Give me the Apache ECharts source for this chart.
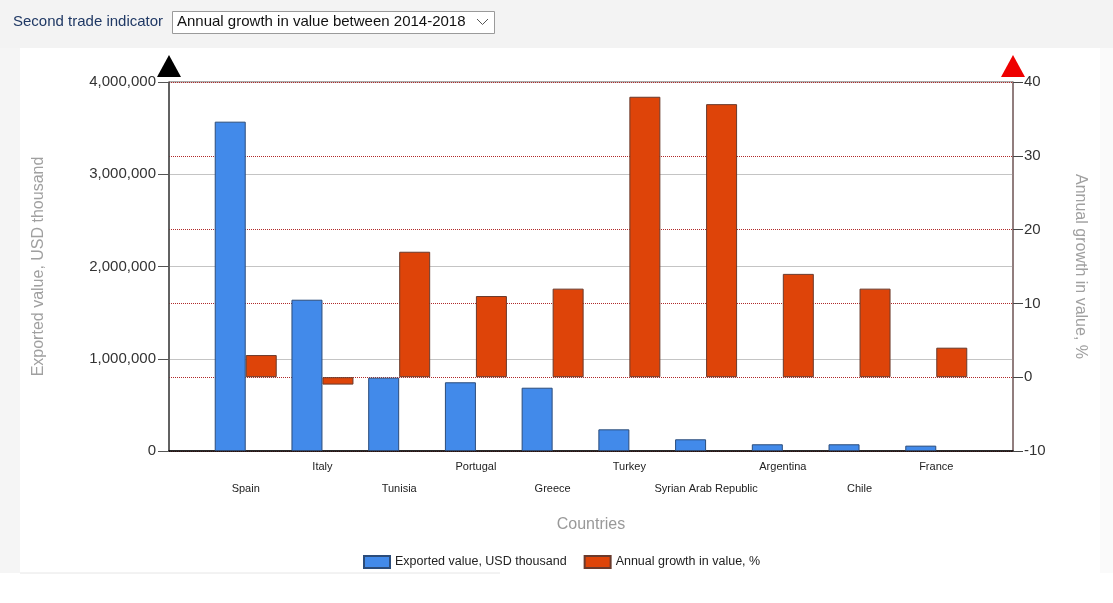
<!DOCTYPE html>
<html>
<head>
<meta charset="utf-8">
<title>Exported value and annual growth by country</title>
<script src="https://cdn.jsdelivr.net/npm/echarts@6/dist/echarts.min.js"></script>
<style>
  html, body { margin: 0; padding: 0; background: #ffffff; }
  #chart { width: 1113px; height: 603px; }
</style>
</head>
<body>
<div id="chart"></div>
<script>
// Countries in display order
const countries = ['Spain', 'Italy', 'Tunisia', 'Portugal', 'Greece', 'Turkey',
  'Syrian Arab Republic', 'Argentina', 'Chile', 'France'];

// Exported value, USD thousand (left axis)
const exportedValue = [3570000, 1640000, 795000, 745000, 686000, 235000, 127000, 73000, 73000, 58000];

// Annual growth in value between 2014-2018, % (right axis)
const annualGrowth = [3, -1, 17, 11, 12, 38, 37, 14, 12, 4];

// Axis ranges
const valueAxisRange = { min: 0, max: 4000000, interval: 1000000 };
const growthAxisRange = { min: -10, max: 40, interval: 10 };

// Category slots run from -1 to 10 so that a half-slot margin sits on each side
const slotRange = { min: -1, max: 10, interval: 1 };

const FONT = 'Arial, "Liberation Sans", sans-serif';
const BAR_WIDTH = 31;

const chart = echarts.init(document.getElementById('chart'), null, { renderer: 'canvas' });

const exportedPoints = exportedValue.map((v, i) => [i, v]);
const growthPoints = annualGrowth.map((v, i) => [i, v]);

const option = {
  backgroundColor: '#ffffff',
  animation: false,
  textStyle: { fontFamily: FONT },
  graphic: [
    { type: 'rect', z: -100, silent: true, shape: { x: 0, y: 0, width: 1113, height: 48 }, style: { fill: '#f3f3f3' } },
    { type: 'rect', z: -100, silent: true, shape: { x: 0, y: 48, width: 20, height: 525 }, style: { fill: '#f5f5f5' } },
    { type: 'rect', z: -100, silent: true, shape: { x: 1100, y: 48, width: 13, height: 525 }, style: { fill: '#fafafa' } },
    { type: 'line', z: -100, silent: true, shape: { x1: 20, y1: 573, x2: 500, y2: 573 }, style: { stroke: '#e6e6e6', lineWidth: 1 } },
    { type: 'text', left: 13, top: 14, style: { text: 'Second trade indicator', font: '15px ' + FONT, fill: '#1f3864' } },
    { type: 'rect', shape: { x: 172.5, y: 11.5, width: 322, height: 22 }, style: { fill: '#ffffff', stroke: '#9a9a9a', lineWidth: 1 } },
    { type: 'text', left: 177, top: 14, style: { text: 'Annual growth in value between 2014-2018', font: '15px ' + FONT, fill: '#111111' } },
    { type: 'polyline', shape: { points: [[477, 19], [482.5, 24.5], [488, 19]] }, style: { stroke: '#555555', lineWidth: 1, fill: null } }
  ],
  grid: {
    left: 169, right: 100, top: 82, bottom: 152,
    show: true, borderColor: '#555555', borderWidth: 1, backgroundColor: 'transparent'
  },
  legend: {
    left: 363, top: 555, padding: 0,
    icon: 'rect',
    itemWidth: 26, itemHeight: 12, itemGap: 17,
    textStyle: { fontSize: 12.5, color: '#222222', fontFamily: FONT },
    data: ['Exported value, USD thousand', 'Annual growth in value, %']
  },
  xAxis: {
    type: 'value',
    min: slotRange.min, max: slotRange.max, interval: slotRange.interval,
    name: 'Countries',
    nameLocation: 'middle',
    nameGap: 66,
    nameTextStyle: { fontSize: 16, color: '#999999', fontFamily: FONT },
    axisLine: { show: true, onZero: false, lineStyle: { color: '#000000', width: 1.5 } },
    axisTick: { show: false },
    splitLine: { show: false },
    axisLabel: {
      margin: 5,
      fontSize: 11,
      lineHeight: 22,
      color: '#222222',
      fontFamily: FONT,
      showMinLabel: true,
      showMaxLabel: true,
      formatter: function (v) {
        const name = countries[v];
        if (name === undefined) return '';
        return v % 2 === 0 ? '\n' + name : name;
      }
    }
  },
  yAxis: [
    {
      type: 'value',
      position: 'left',
      min: valueAxisRange.min, max: valueAxisRange.max, interval: valueAxisRange.interval,
      name: 'Exported value, USD thousand',
      nameLocation: 'middle',
      nameGap: 122,
      nameTextStyle: { fontSize: 16, color: '#a0a0a0', fontFamily: FONT },
      axisLine: { show: true, onZero: false, lineStyle: { color: '#4a4a4a', width: 1.5 } },
      axisTick: { show: true, length: 11, lineStyle: { color: '#555555' } },
      axisLabel: {
        fontSize: 15, color: '#333333', margin: 13, fontFamily: FONT,
        formatter: function (v) { return v.toLocaleString('en-US'); }
      },
      splitLine: { show: true, lineStyle: { color: '#c4c4c4', width: 1, type: 'solid' } }
    },
    {
      type: 'value',
      position: 'right',
      min: growthAxisRange.min, max: growthAxisRange.max, interval: growthAxisRange.interval,
      name: 'Annual growth in value, %',
      nameLocation: 'middle',
      nameGap: 59,
      nameRotate: -90,
      nameTextStyle: { fontSize: 16, color: '#a0a0a0', fontFamily: FONT },
      axisLine: { show: true, onZero: false, lineStyle: { color: '#8a6f6f', width: 1.5 } },
      axisTick: { show: true, length: 10, lineStyle: { color: '#444444' } },
      axisLabel: { fontSize: 15, color: '#333333', margin: 11, fontFamily: FONT },
      splitLine: { show: true, lineStyle: { color: '#b02a2a', width: 1, type: [1, 1] } }
    }
  ],
  series: [
    {
      name: 'Exported value, USD thousand',
      type: 'bar',
      yAxisIndex: 0,
      barWidth: BAR_WIDTH,
      barGap: '0%',
      itemStyle: { color: '#428aea', borderColor: '#2b4c7a', borderWidth: 1 },
      data: exportedPoints,
      // Black arrow at the top of the left axis (offset cancels the bar's side shift)
      markPoint: {
        silent: true,
        label: { show: false },
        data: [{
          coord: [slotRange.min, valueAxisRange.max],
          symbol: 'triangle', symbolSize: [24, 22], symbolOffset: [BAR_WIDTH / 2, -16],
          itemStyle: { color: '#000000', borderWidth: 0 }
        }]
      }
    },
    {
      name: 'Annual growth in value, %',
      type: 'bar',
      yAxisIndex: 1,
      barWidth: BAR_WIDTH,
      barGap: '0%',
      itemStyle: { color: '#de4409', borderColor: '#6a3a2c', borderWidth: 1 },
      data: growthPoints,
      // Red arrow at the top of the right axis
      markPoint: {
        silent: true,
        label: { show: false },
        data: [{
          coord: [slotRange.max, growthAxisRange.max],
          symbol: 'triangle', symbolSize: [24, 22], symbolOffset: [-BAR_WIDTH / 2, -16],
          itemStyle: { color: '#ee0000', borderWidth: 0 }
        }]
      }
    }
  ]
};

chart.setOption(option);
</script>
</body>
</html>
